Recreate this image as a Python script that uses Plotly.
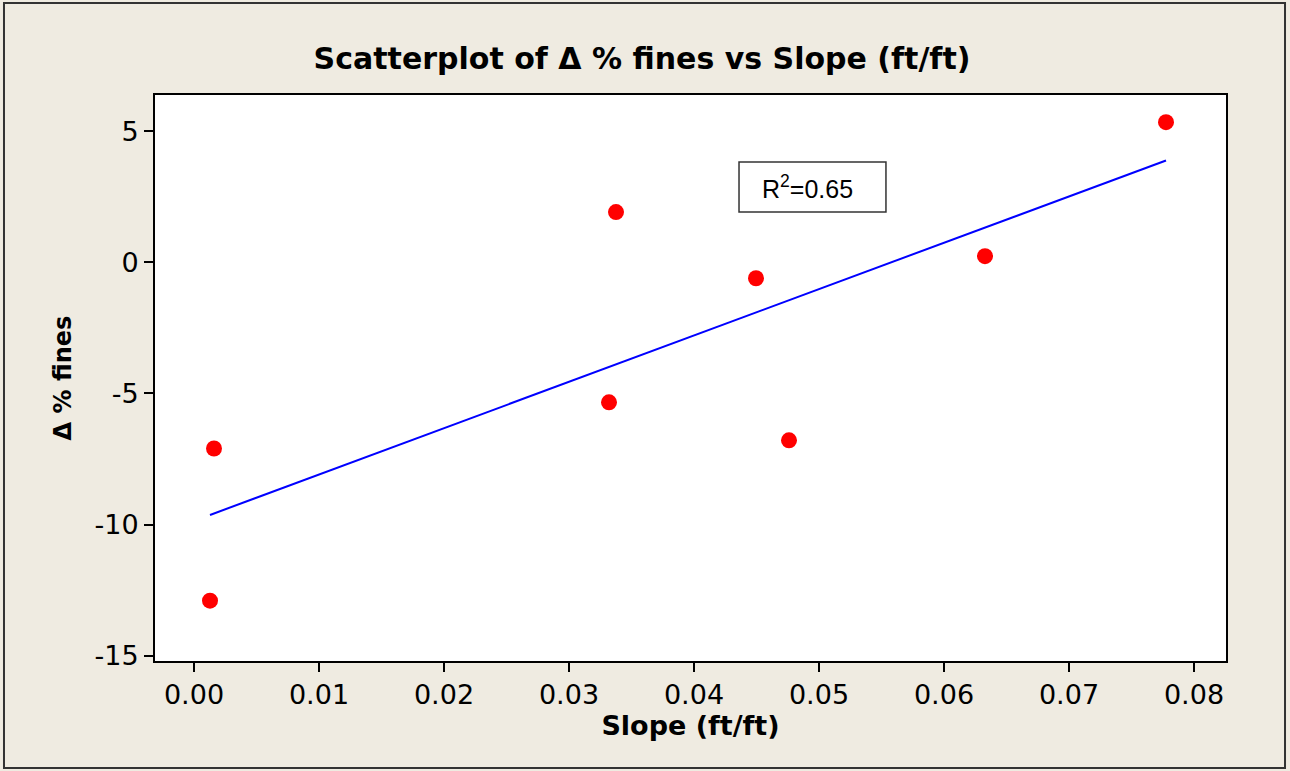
import numpy as np
import plotly.graph_objects as go

# Measured slope (ft/ft) and change in percent fines at each site
slope = [0.00128, 0.00160, 0.03320, 0.03376, 0.04496, 0.04760, 0.06328, 0.07776]
delta_fines = [-12.90, -7.10, -5.34, 1.91, -0.61, -6.79, 0.23, 5.34]

x_ticks = [0.00, 0.01, 0.02, 0.03, 0.04, 0.05, 0.06, 0.07, 0.08]
x_tick_text = ["0.00", "0.01", "0.02", "0.03", "0.04", "0.05", "0.06", "0.07", "0.08"]
y_ticks = [5, 0, -5, -10, -15]
y_tick_text = ["5", "0", "-5", "-10", "-15"]
r2_label = "R<sup>2</sup>=0.65"

# Least-squares fit line across the observed slope range
coef = np.polyfit(slope, delta_fines, 1)
fit_x = np.array([min(slope), max(slope)])
fit_y = np.polyval(coef, fit_x)

BG = "#EFEBE1"
tick_font = dict(family="DejaVu Sans", size=27, color="black")

fig = go.Figure()
fig.add_trace(go.Scatter(
    x=fit_x, y=fit_y, mode="lines",
    line=dict(color="#0000FF", width=2),
    hoverinfo="skip", showlegend=False,
))
fig.add_trace(go.Scatter(
    x=slope, y=delta_fines, mode="markers",
    marker=dict(color="#FF0000", size=16, symbol="circle", line=dict(width=0)),
    showlegend=False,
))

fig.update_layout(
    width=1290, height=771,
    margin=dict(l=155, r=64, t=95, b=110),
    paper_bgcolor=BG, plot_bgcolor="white",
    title=dict(
        text="<b>Scatterplot of Δ % fines vs Slope (ft/ft)</b>",
        x=0.4977, xanchor="center", y=1 - 58 / 771, yanchor="middle",
        font=dict(family="DejaVu Sans", size=30, color="black"),
    ),
    xaxis=dict(
        range=[-0.00312, 0.08256], tickvals=x_ticks, ticktext=x_tick_text,
        ticks="outside", ticklen=9, tickwidth=2, tickcolor="black",
        showline=True, linewidth=2, linecolor="black", mirror=True,
        showgrid=False, zeroline=False, tickfont=tick_font,
        title=dict(text="<b>Slope (ft/ft)</b>", standoff=3,
                   font=dict(family="DejaVu Sans", size=27, color="black")),
    ),
    yaxis=dict(
        range=[-15.2, 6.374], tickvals=y_ticks, ticktext=y_tick_text,
        ticks="outside", ticklen=9, tickwidth=2, tickcolor="black",
        showline=True, linewidth=2, linecolor="black", mirror=True,
        showgrid=False, zeroline=False, tickfont=tick_font,
        title=dict(text="<b>Δ % fines</b>", standoff=16,
                   font=dict(family="DejaVu Sans", size=24, color="black")),
    ),
    shapes=[
        # frame around the whole figure
        dict(type="rect", xref="paper", yref="paper",
             x0=-0.141, x1=1.0551, y0=-0.189, y1=1.1625,
             line=dict(color="#333333", width=2), layer="below"),
        # box around the R² label
        dict(type="rect", xref="paper", yref="paper",
             x0=0.5453, x1=0.6825, y0=0.7933, y1=0.8816,
             line=dict(color="#333333", width=1.5), fillcolor="white"),
    ],
    annotations=[
        dict(text=r2_label, xref="paper", yref="paper",
             x=0.5649, y=0.8375, xanchor="left", yanchor="middle",
             showarrow=False,
             font=dict(family="Liberation Sans", size=25, color="black")),
    ],
)

fig.write_html("out.html")
